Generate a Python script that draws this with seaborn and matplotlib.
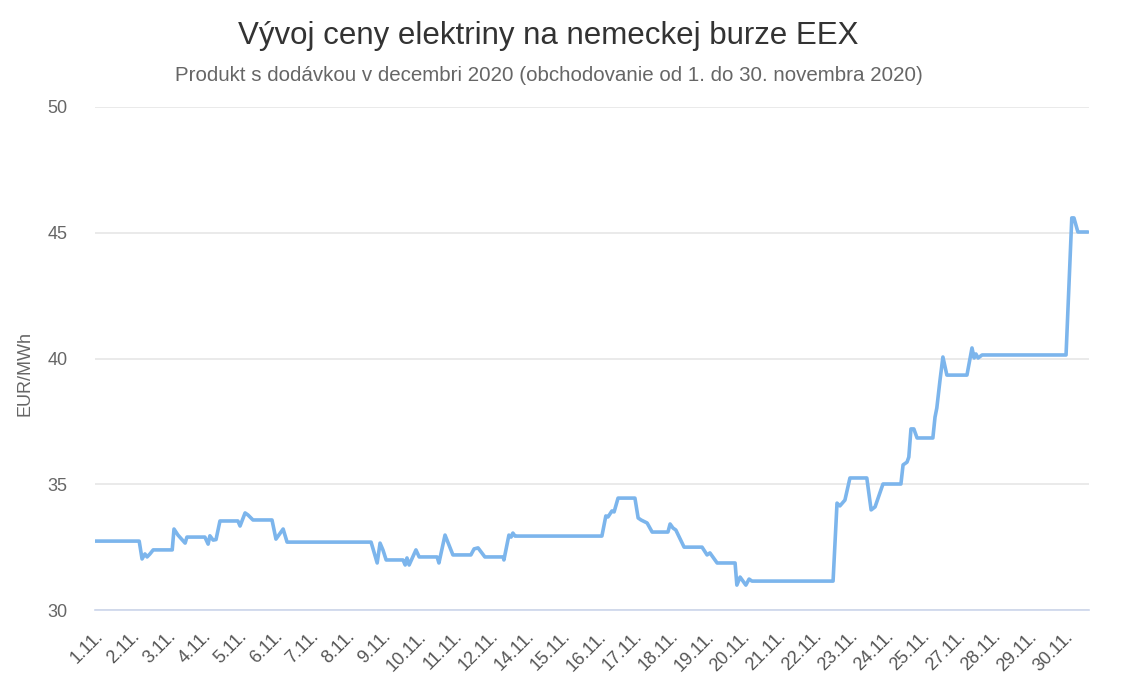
import numpy as np
import pandas as pd
import matplotlib
matplotlib.use("Agg")
import matplotlib.pyplot as plt
import seaborn as sns

# trading days on the x-axis (labels as shown in the source chart)
day_labels = ["1.11.", "2.11.", "3.11.", "4.11.", "5.11.", "6.11.", "7.11.",
              "8.11.", "9.11.", "10.11.", "11.11.", "12.11.", "14.11.", "15.11.",
              "16.11.", "17.11.", "18.11.", "19.11.", "20.11.", "21.11.", "22.11.",
              "23.11.", "24.11.", "25.11.", "27.11.", "28.11.", "29.11.", "30.11."]

# position along the axis (in label steps) and price in EUR/MWh
pos = [0, 1.23, 1.31, 1.39, 1.45, 1.53, 1.62, 2.15, 2.20, 2.31, 2.51, 2.56,
       3.06, 3.15, 3.20, 3.29, 3.37, 3.48, 3.98, 4.04, 4.18, 4.26, 4.40, 4.93,
       5.04, 5.24, 5.35, 7.69, 7.86, 7.94, 8.02, 8.11, 8.58, 8.64, 8.69, 8.75,
       8.94, 9.03, 9.53, 9.58, 9.75, 9.97, 10.47, 10.56, 10.67, 10.86, 11.37,
       11.39, 11.53, 11.59, 11.64, 11.70, 11.73, 14.12, 14.23, 14.29, 14.40,
       14.46, 14.57, 15.04, 15.13, 15.21, 15.38, 15.52, 15.96, 16.02, 16.10,
       16.18, 16.41, 16.91, 17.05, 17.13, 17.33, 17.83, 17.88, 17.97, 18.13,
       18.22, 18.30, 20.56, 20.67, 20.75, 20.89, 21.03, 21.50, 21.62, 21.73,
       21.95, 22.45, 22.51, 22.62, 22.67, 22.73, 22.81, 22.90, 23.34, 23.40,
       23.45, 23.54, 23.62, 23.73, 24.29, 24.43, 24.49, 24.54, 24.60, 24.71,
       27.05, 27.21, 27.27, 27.38, 27.66]
price = [32.74, 32.74, 32.03, 32.23, 32.11, 32.23, 32.39, 32.39, 33.22, 32.98, 32.66, 32.90,
         32.90, 32.62, 32.95, 32.78, 32.80, 33.54, 33.54, 33.34, 33.86, 33.78, 33.58, 33.58,
         32.82, 33.22, 32.70, 32.70, 31.87, 32.66, 32.39, 31.99, 31.99, 31.79, 32.07, 31.79,
         32.39, 32.11, 32.11, 31.87, 32.98, 32.19, 32.19, 32.43, 32.47, 32.11, 32.11,
         31.99, 32.98, 32.90, 33.06, 32.94, 32.94, 32.94, 33.74, 33.70, 33.94,
         33.90, 34.45, 34.45, 33.66, 33.58, 33.46, 33.10, 33.10, 33.42, 33.26,
         33.18, 32.50, 32.50, 32.19, 32.27, 31.87, 31.87, 30.99, 31.31, 30.99,
         31.23, 31.15, 31.15, 34.25, 34.14, 34.37, 35.25, 35.25, 33.98, 34.10,
         35.01, 35.01, 35.77, 35.88, 36.08, 37.20, 37.20, 36.84, 36.84, 37.67,
         38.03, 39.15, 40.06, 39.34, 39.34, 40.42, 40.02, 40.18, 40.02, 40.14,
         40.14, 45.59, 45.59, 45.03, 45.03]

y_ticks = [30, 35, 40, 45, 50]

df = pd.DataFrame({"pos": pos, "price": price})

sns.set_theme(style="white")
plt.rcParams["font.family"] = ["Liberation Sans", "DejaVu Sans"]

fig = plt.figure(figsize=(11.22, 6.97), dpi=100)
ax = fig.add_axes([0.0847, 0.1248, 0.8859, 0.7217])

sns.lineplot(data=df, x="pos", y="price", ax=ax, color="#7cb5ec",
             linewidth=2.6, solid_joinstyle="round")

ax.set_xlim(0, 27.69)
ax.set_ylim(30, 50)

# y axis: gridlines only
ax.set_yticks(y_ticks)
ax.set_yticklabels([str(v) for v in y_ticks], fontsize=13, color="#666666")
ax.yaxis.grid(True, color="#e6e6e6", linewidth=1.2)
ax.tick_params(axis="y", length=0, pad=20)
ax.set_ylabel("EUR/MWh", fontsize=13, color="#666666")
ax.yaxis.set_label_coords(-0.062, 0.47)

# x axis
ax.set_xticks(range(len(day_labels)))
ax.set_xticklabels(day_labels, rotation=45, ha="right", rotation_mode="anchor",
                   fontsize=13, color="#555555")
ax.tick_params(axis="x", length=10, width=1.2, color="#ccd6eb", pad=3, direction="out")
ax.set_xlabel("")

for s in ["top", "right", "left"]:
    ax.spines[s].set_visible(False)
ax.spines["bottom"].set_color("#ccd6eb")
ax.spines["bottom"].set_linewidth(1.2)

fig.text(0.489, 0.948, "Vývoj ceny elektriny na nemeckej burze EEX",
         ha="center", va="center", fontsize=22.5, color="#333333")
fig.text(0.489, 0.892, "Produkt s dodávkou v decembri 2020 (obchodovanie od 1. do 30. novembra 2020)",
         ha="center", va="center", fontsize=14.8, color="#666666")

fig.savefig("out.png", dpi=100)
